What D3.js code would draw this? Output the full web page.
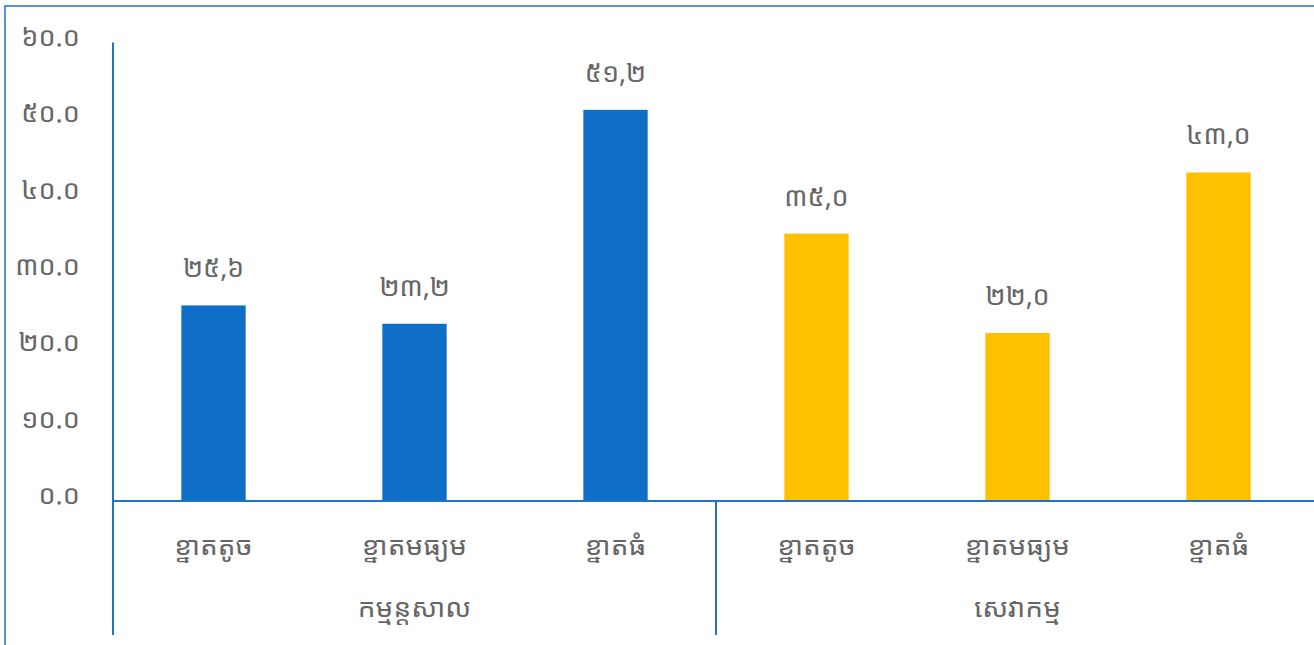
<!DOCTYPE html>
<html>
<head>
<meta charset="utf-8">
<script src="https://cdn.jsdelivr.net/npm/d3@7"></script>
<style>
  body { margin: 0; background: #fff; }
  text { font-family: "Khmer OS System", "Khmer OS", "Noto Sans Khmer UI", "Noto Sans Khmer", "DejaVu Sans", "Noto Sans", sans-serif; font-weight: 400; }
</style>
</head>
<body>
<div id="main"></div>
<script>
// data
var groups = ["កម្មន្តសាល", "សេវាកម្ម"];
var sizes = ["ខ្នាតតូច", "ខ្នាតមធ្យម", "ខ្នាតធំ"];
var industryValues = [25.6, 23.2, 51.2];
var serviceValues = [35.0, 22.0, 43.0];
var yTicks = [0, 10, 20, 30, 40, 50, 60];
var groupColors = ["#0F6FC6", "#FFC000"];

var width = 1314, height = 645;
var textColor = "#666666";
var khDigits = "០១២៣៤៥៦៧៨៩";
function kh(s) {
  return s.replace(/[0-9]/g, function(c) { return khDigits[+c]; });
}

var rows = [];
[industryValues, serviceValues].forEach(function(vals, g) {
  vals.forEach(function(v, i) {
    rows.push({ key: g + "-" + i, group: g, size: sizes[i], value: v });
  });
});

var svg = d3.select("#main").append("svg")
  .attr("width", width)
  .attr("height", height);

// outer frame
svg.append("rect")
  .attr("x", 5).attr("y", 6)
  .attr("width", width + 20).attr("height", height + 20)
  .attr("fill", "none")
  .attr("stroke", "#1F73C9")
  .attr("stroke-width", 1.5);

var left = 113, baseY = 501;
var x = d3.scaleBand()
  .domain(rows.map(function(d) { return d.key; }))
  .range([left, left + 6 * 201])
  .paddingInner(0.68)
  .paddingOuter(0.34);

var y = d3.scaleLinear().domain([0, 60]).range([baseY, 42.6]);

// y axis labels
var yAxis = d3.axisLeft(y)
  .tickValues(yTicks)
  .tickSize(0)
  .tickPadding(0)
  .tickFormat(function(d) { return kh(d3.format(".1f")(d)); });

var gy = svg.append("g")
  .attr("transform", "translate(80,1)")
  .call(yAxis);
gy.select(".domain").remove();
gy.selectAll("text")
  .style("font-size", "27px")
  .attr("font-family", null)
  .attr("fill", textColor);

// bars
svg.selectAll("rect.bar")
  .data(rows)
  .enter()
  .append("rect")
  .attr("class", "bar")
  .attr("x", function(d) { return x(d.key); })
  .attr("width", x.bandwidth())
  .attr("y", function(d) { return y(d.value); })
  .attr("height", function(d) { return baseY - y(d.value); })
  .attr("fill", function(d) { return groupColors[d.group]; });

// value labels
svg.selectAll("text.val")
  .data(rows)
  .enter()
  .append("text")
  .attr("class", "val")
  .attr("x", function(d) { return x(d.key) + x.bandwidth() / 2; })
  .attr("y", function(d) { return y(d.value) - 21; })
  .attr("text-anchor", "middle")
  .attr("fill", textColor)
  .style("font-size", "27px")
  .text(function(d) { return kh(d3.format(".1f")(d.value)).replace(".", ","); });

// axis lines
var axisColor = "#1F73C9";
svg.append("line")
  .attr("x1", left).attr("x2", left)
  .attr("y1", y(60)).attr("y2", 635)
  .attr("stroke", axisColor).attr("stroke-width", 2);
svg.append("line")
  .attr("x1", left).attr("x2", width)
  .attr("y1", baseY).attr("y2", baseY)
  .attr("stroke", axisColor).attr("stroke-width", 2);

var step = x.step();
// group separator
svg.append("line")
  .attr("x1", left + 3 * step).attr("x2", left + 3 * step)
  .attr("y1", baseY).attr("y2", 635)
  .attr("stroke", axisColor).attr("stroke-width", 2);

// category labels
svg.selectAll("text.cat")
  .data(rows)
  .enter()
  .append("text")
  .attr("class", "cat")
  .attr("x", function(d) { return x(d.key) + x.bandwidth() / 2; })
  .attr("y", 562)
  .attr("text-anchor", "middle")
  .attr("fill", textColor)
  .style("font-size", "28px")
  .text(function(d) { return d.size; });

// group labels
svg.selectAll("text.grp")
  .data(groups)
  .enter()
  .append("text")
  .attr("class", "grp")
  .attr("x", function(d, i) { return left + (i * 3 + 1.5) * step; })
  .attr("y", 624)
  .attr("text-anchor", "middle")
  .attr("fill", textColor)
  .style("font-size", "28px")
  .text(function(d) { return d; });
</script>
</body>
</html>
